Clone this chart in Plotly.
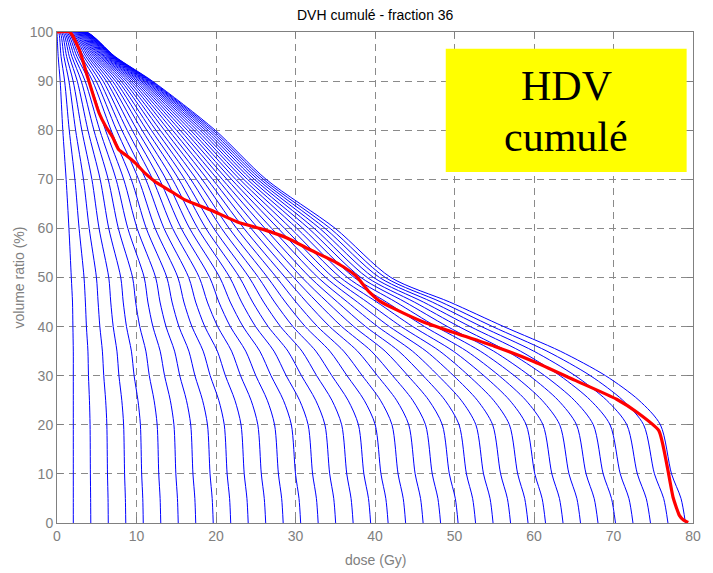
import plotly.graph_objects as go

# Volume levels (%) at which each blue DVH curve's dose (Gy) was read
volume_levels = [100, 95, 90, 80, 70, 60, 50, 45, 40, 35, 30, 25, 20, 10, 5, 0]

# Dose (Gy) of curves 1..36 at each volume level
dose_v100 = [0.00, 0.19, 0.37, 0.55, 0.72, 0.89, 1.05, 1.21, 1.37, 1.52, 1.66, 1.80, 1.94, 2.07, 2.19, 2.31, 2.43, 2.54,
             2.64, 2.74, 2.84, 2.93, 3.02, 3.10, 3.17, 3.25, 3.31, 3.38, 3.43, 3.49, 3.53, 3.58, 3.61, 3.65, 3.68, 3.70]
dose_v95 = [0.15, 0.51, 0.87, 1.21, 1.55, 1.87, 2.19, 2.50, 2.79, 3.08, 3.36, 3.63, 3.89, 4.14, 4.38, 4.62, 4.84, 5.05,
            5.26, 5.45, 5.64, 5.81, 5.98, 6.14, 6.29, 6.42, 6.55, 6.67, 6.79, 6.89, 6.98, 7.06, 7.14, 7.20, 7.25, 7.30]
dose_v90 = [0.40, 0.96, 1.50, 2.03, 2.55, 3.05, 3.54, 4.02, 4.48, 4.93, 5.37, 5.80, 6.21, 6.60, 6.99, 7.36, 7.72, 8.06,
            8.39, 8.71, 9.02, 9.31, 9.59, 9.85, 10.10, 10.34, 10.57, 10.78, 10.98, 11.16, 11.34, 11.50, 11.64, 11.77, 11.89, 12.00]
dose_v80 = [0.73, 1.54, 2.34, 3.12, 3.89, 4.64, 5.38, 6.10, 6.80, 7.49, 8.16, 8.82, 9.46, 10.09, 10.70, 11.29, 11.87, 12.44,
            12.98, 13.52, 14.03, 14.53, 15.02, 15.49, 15.94, 16.38, 16.80, 17.21, 17.60, 17.98, 18.33, 18.68, 19.01, 19.32, 19.62, 19.90]
dose_v70 = [1.15, 2.25, 3.33, 4.39, 5.43, 6.44, 7.43, 8.39, 9.34, 10.26, 11.16, 12.03, 12.89, 13.72, 14.53, 15.32, 16.08, 16.82,
            17.54, 18.24, 18.91, 19.56, 20.19, 20.79, 21.38, 21.94, 22.47, 22.99, 23.48, 23.95, 24.40, 24.83, 25.23, 25.61, 25.97, 26.30]
dose_v60 = [1.50, 2.78, 4.05, 5.29, 6.51, 7.72, 8.91, 10.08, 11.23, 12.35, 13.46, 14.55, 15.63, 16.68, 17.71, 18.73, 19.72, 20.70,
            21.66, 22.60, 23.51, 24.41, 25.30, 26.16, 27.00, 27.82, 28.63, 29.41, 30.18, 30.92, 31.65, 32.36, 33.05, 33.72, 34.37, 35.00]
dose_v50 = [1.80, 3.40, 4.96, 6.51, 8.02, 9.51, 10.97, 12.41, 13.82, 15.21, 16.57, 17.90, 19.21, 20.48, 21.74, 22.97, 24.17, 25.34,
            26.49, 27.62, 28.71, 29.78, 30.82, 31.84, 32.83, 33.80, 34.74, 35.64, 36.53, 37.39, 38.23, 39.03, 39.82, 40.57, 41.30, 42.00]
dose_v45 = [1.95, 3.57, 5.17, 6.76, 8.33, 9.89, 11.43, 12.96, 14.47, 15.96, 17.44, 18.91, 20.36, 21.79, 23.21, 24.61, 25.99, 27.37,
            28.73, 30.06, 31.39, 32.70, 33.99, 35.27, 36.53, 37.78, 39.01, 40.23, 41.43, 42.62, 43.78, 44.94, 46.08, 47.20, 48.31, 49.40]
dose_v40 = [2.00, 3.70, 5.39, 7.07, 8.74, 10.41, 12.06, 13.71, 15.34, 16.97, 18.59, 20.21, 21.80, 23.40, 24.98, 26.56, 28.12, 29.68,
            31.23, 32.77, 34.30, 35.82, 37.34, 38.83, 40.34, 41.82, 43.30, 44.76, 46.23, 47.69, 49.12, 50.55, 51.98, 53.40, 54.80, 56.20]
dose_v35 = [2.05, 3.89, 5.71, 7.54, 9.36, 11.18, 12.98, 14.79, 16.59, 18.39, 20.17, 21.96, 23.74, 25.51, 27.29, 29.05, 30.81, 32.56,
            34.32, 36.06, 37.80, 39.54, 41.27, 42.99, 44.71, 46.43, 48.14, 49.84, 51.54, 53.24, 54.92, 56.61, 58.29, 59.97, 61.63, 63.30]
dose_v30 = [2.05, 3.96, 5.88, 7.79, 9.70, 11.61, 13.53, 15.44, 17.35, 19.27, 21.18, 23.09, 25.01, 26.92, 28.83, 30.75, 32.66, 34.57,
            36.48, 38.40, 40.31, 42.22, 44.14, 46.05, 47.96, 49.88, 51.79, 53.70, 55.61, 57.53, 59.44, 61.35, 63.27, 65.18, 67.09, 69.00]
dose_v25 = [2.05, 4.08, 6.12, 8.15, 10.18, 12.21, 14.25, 16.28, 18.31, 20.35, 22.38, 24.41, 26.45, 28.48, 30.51, 32.54, 34.58, 36.61,
            38.64, 40.68, 42.71, 44.74, 46.77, 48.81, 50.84, 52.87, 54.91, 56.94, 58.97, 61.01, 63.04, 65.07, 67.10, 69.14, 71.17, 73.20]
dose_v20 = [2.05, 4.16, 6.27, 8.38, 10.49, 12.60, 14.71, 16.82, 18.93, 21.04, 23.15, 25.26, 27.37, 29.48, 31.59, 33.70, 35.81, 37.92,
            40.03, 42.14, 44.25, 46.36, 48.47, 50.58, 52.69, 54.80, 56.91, 59.02, 61.13, 63.24, 65.35, 67.46, 69.57, 71.68, 73.79, 75.90]
dose_v10 = [2.05, 4.20, 6.35, 8.50, 10.65, 12.80, 14.95, 17.10, 19.25, 21.40, 23.55, 25.70, 27.85, 30.00, 32.15, 34.30, 36.45, 38.60,
            40.75, 42.90, 45.05, 47.20, 49.35, 51.50, 53.65, 55.80, 57.95, 60.10, 62.25, 64.40, 66.55, 68.70, 70.85, 73.00, 75.15, 77.30]
dose_v05 = [2.05, 4.23, 6.42, 8.60, 10.79, 12.97, 15.15, 17.34, 19.52, 21.71, 23.89, 26.07, 28.26, 30.44, 32.63, 34.81, 36.99, 39.18,
            41.36, 43.55, 45.73, 47.91, 50.10, 52.28, 54.47, 56.65, 58.83, 61.02, 63.20, 65.39, 67.57, 69.75, 71.94, 74.12, 76.31, 78.49]
dose_v00 = [2.05, 4.25, 6.45, 8.65, 10.85, 13.05, 15.25, 17.45, 19.65, 21.85, 24.05, 26.25, 28.45, 30.65, 32.85, 35.05, 37.25, 39.45,
            41.65, 43.85, 46.05, 48.25, 50.45, 52.65, 54.85, 57.05, 59.25, 61.45, 63.65, 65.85, 68.05, 70.25, 72.45, 74.65, 76.85, 79.05]

dose_rows = [dose_v100, dose_v95, dose_v90, dose_v80, dose_v70, dose_v60, dose_v50, dose_v45,
             dose_v40, dose_v35, dose_v30, dose_v25, dose_v20, dose_v10, dose_v05, dose_v00]

# Red curve (final cumulative DVH)
red_dose = [0.0, 1.6, 2.8, 3.84, 5.29, 6.12, 6.95, 7.78, 8.61, 9.86, 11.1, 12.35, 14.4, 16.1, 19.4, 22.7, 26.1, 29.0,
            31.9, 35.2, 37.5, 39.3, 40.5, 42.6, 46.0, 49.7, 55.0, 60.1, 65.1, 70.4, 73.0, 75.7, 76.7, 77.5, 78.3, 78.8, 79.4]
red_volume = [100, 100, 96.4, 90.9, 83.5, 80.8, 78.7, 76.0, 75.0, 73.3, 71.2, 69.5, 67.5, 65.8, 63.7, 61.3, 59.7, 58.0,
              55.6, 53.0, 50.5, 47.0, 45.3, 43.5, 41.0, 38.9, 36.0, 32.8, 29.1, 25.2, 22.5, 18.8, 12.0, 5.2, 1.5, 0.6, 0.1]

x_ticks = [0, 10, 20, 30, 40, 50, 60, 70, 80]
y_ticks = [0, 10, 20, 30, 40, 50, 60, 70, 80, 90, 100]

fig = go.Figure()
n_curves = len(dose_v00)
for k in range(n_curves):
    xs = [0.0] + [row[k] for row in dose_rows]
    ys = [100] + volume_levels
    fig.add_trace(go.Scatter(x=xs, y=ys, mode="lines",
                             line=dict(color="#0000ff", width=1, shape="spline", smoothing=0.8),
                             hoverinfo="skip", showlegend=False))

fig.add_trace(go.Scatter(x=red_dose, y=red_volume, mode="lines",
                         line=dict(color="#ff0000", width=3.2, shape="spline", smoothing=0.5),
                         showlegend=False))

gray = "#808080"
axis_common = dict(showline=True, linecolor=gray, linewidth=1, mirror="ticks",
                   ticks="inside", ticklen=6, tickcolor=gray,
                   showgrid=True, gridcolor="#8a8a8a", gridwidth=1, griddash="7px,5px",
                   zeroline=False, tickfont=dict(family="Liberation Sans, Arial, sans-serif", size=14, color=gray))

fig.update_xaxes(range=[0, 80], tickvals=x_ticks, **axis_common)
fig.update_yaxes(range=[0, 100], tickvals=y_ticks, **axis_common)

# Yellow label box
fig.add_shape(type="rect", xref="x", yref="y", x0=48.9, x1=79.2, y0=71.5, y1=96.6,
              fillcolor="#ffff00", line=dict(width=0), layer="above")

fig.add_annotation(x=64.05, y=89.0, xref="x", yref="y", text="HDV", showarrow=False,
                   font=dict(family="Liberation Serif, Times New Roman, serif", size=42, color="black"))
fig.add_annotation(x=64.05, y=78.7, xref="x", yref="y", text="cumulé", showarrow=False,
                   font=dict(family="Liberation Serif, Times New Roman, serif", size=42, color="black"))

fig.add_annotation(x=0.5, y=1, xref="paper", yref="paper", yanchor="middle", yshift=17,
                   text="DVH cumulé - fraction 36", showarrow=False,
                   font=dict(family="Liberation Sans, Arial, sans-serif", size=14, color="black"))
fig.add_annotation(x=0.5, y=0, xref="paper", yref="paper", yanchor="middle", yshift=-37,
                   text="dose (Gy)", showarrow=False,
                   font=dict(family="Liberation Sans, Arial, sans-serif", size=14, color=gray))
fig.add_annotation(x=0, y=0.5, xref="paper", yref="paper", xanchor="center", xshift=-39,
                   text="volume ratio (%)", textangle=-90, showarrow=False,
                   font=dict(family="Liberation Sans, Arial, sans-serif", size=14, color=gray))

fig.update_layout(width=713, height=573, margin=dict(l=57, r=15, t=32, b=50),
                  paper_bgcolor="white", plot_bgcolor="white")

fig.write_html("out.html")
